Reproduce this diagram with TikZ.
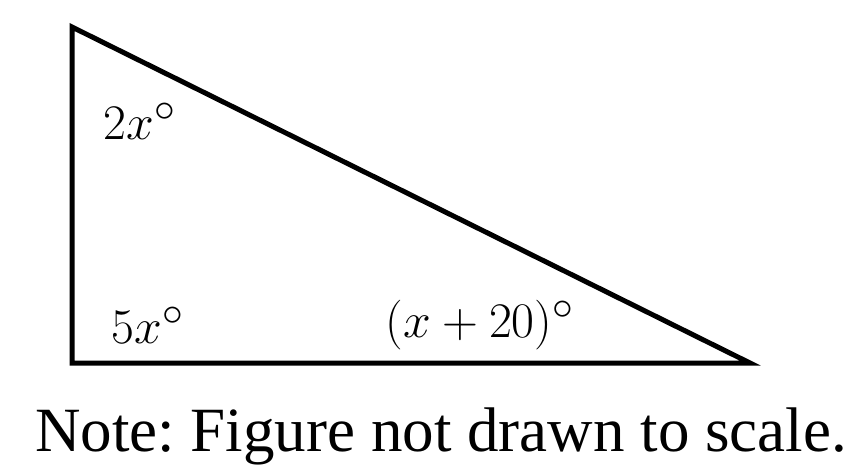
\documentclass[tikz,border=0pt]{standalone}
\usepackage{fontspec}
\setmainfont{Liberation Serif}
\begin{document}
\begin{tikzpicture}[x=1pt,y=-1pt,
  lbl/.style={inner sep=0pt},
  note/.style={inner sep=0pt,anchor=base west,font=\fontsize{63}{68}\selectfont\frenchspacing}]
\useasboundingbox (0,0) rectangle (858,469);
\coordinate (A) at (72,27);
\coordinate (B) at (72,363);
\coordinate (C) at (750,363);
\draw[line width=5pt,line join=miter] (A) -- (B) -- (C) -- cycle;
\node[lbl] (a) at (140,121) {\scalebox{2}{\Huge $2x^\circ$}};
\node[lbl] (b) at (148,325) {\scalebox{2}{\Huge $5x^\circ$}};
\node[lbl] (c) at (480,325) {\scalebox{2}{\Huge $(x+20)^\circ$}};
\node[note] (n) at (35,451) {Note: Figure not drawn to scale.};
\end{tikzpicture}
\end{document}
